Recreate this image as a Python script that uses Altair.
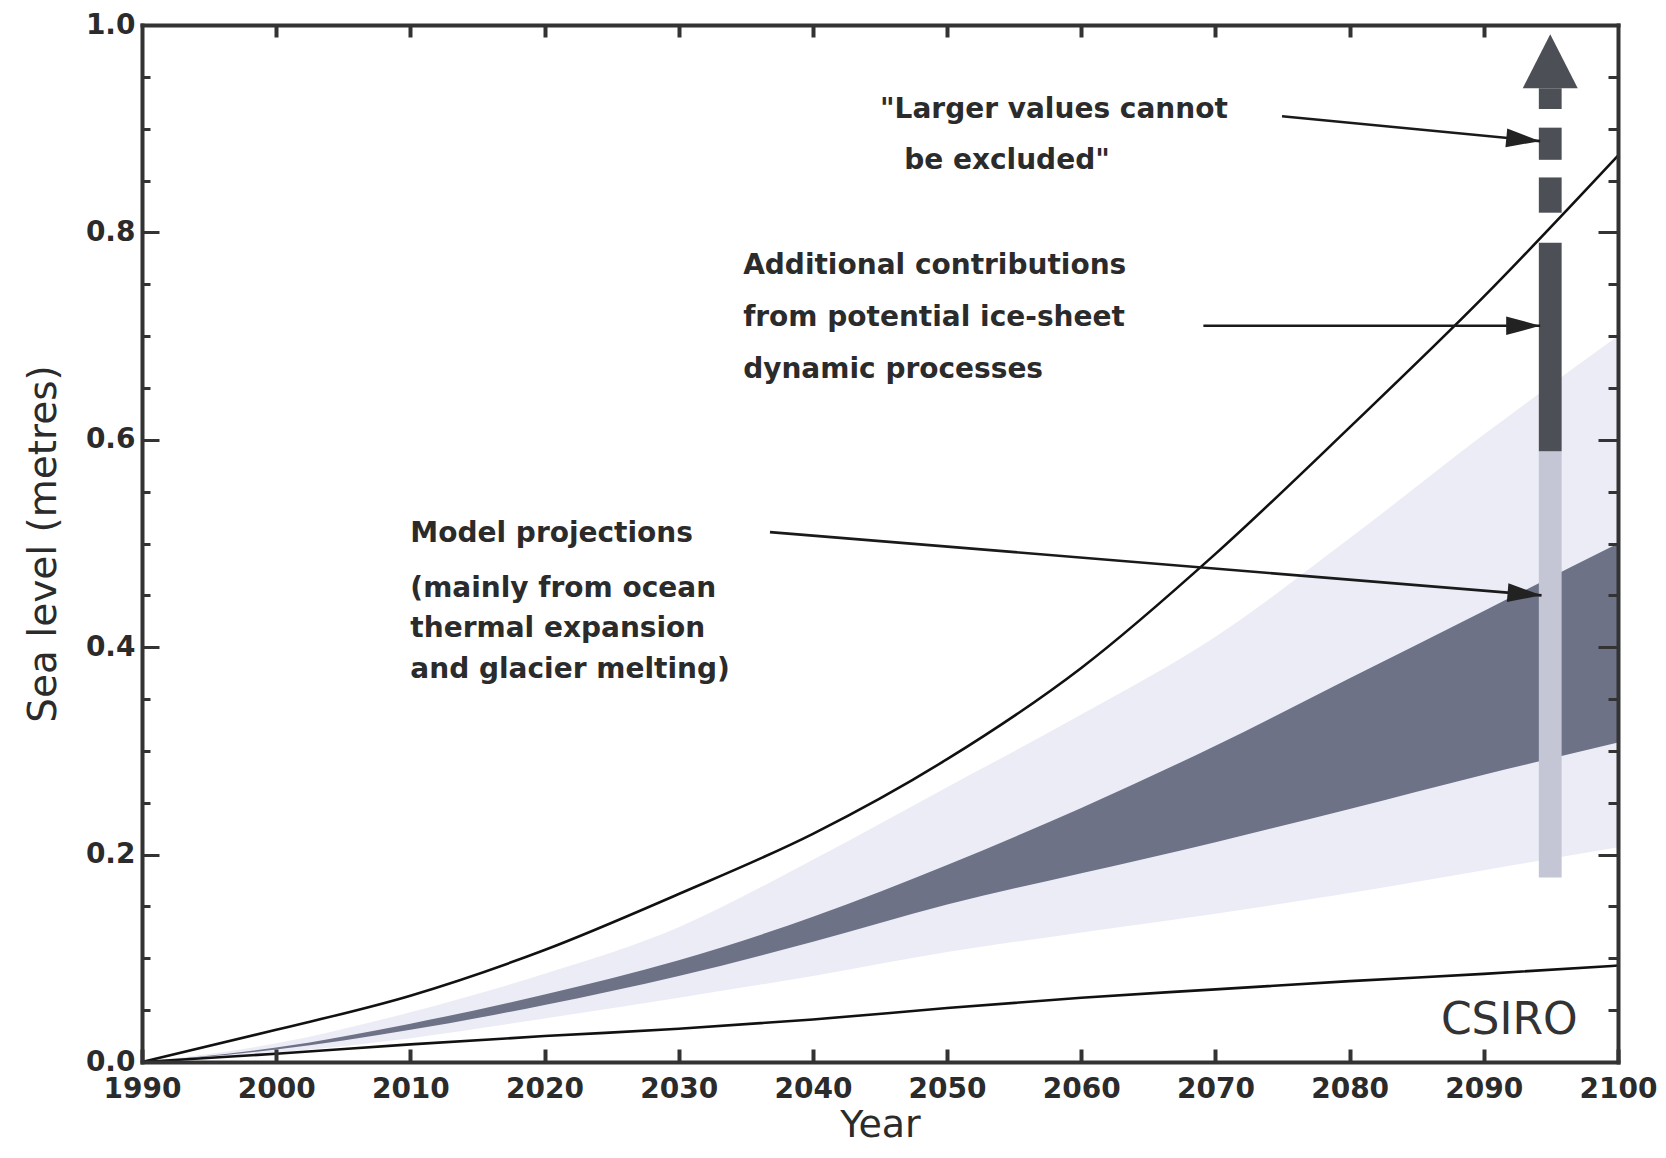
import altair as alt
import pandas as pd

# ---------------- data ----------------
years = [1990, 2000, 2010, 2020, 2030, 2040, 2050, 2060, 2070, 2080, 2090, 2100]
upper_curve = [0.000, 0.031, 0.064, 0.108, 0.162, 0.220, 0.292, 0.380, 0.490, 0.612, 0.738, 0.874]
lower_curve = [0.000, 0.008, 0.017, 0.025, 0.032, 0.041, 0.052, 0.062, 0.070, 0.078, 0.085, 0.093]
light_top = [0.000, 0.018, 0.048, 0.085, 0.130, 0.195, 0.265, 0.335, 0.410, 0.505, 0.605, 0.700]
light_bottom = [0.000, 0.009, 0.023, 0.042, 0.062, 0.083, 0.106, 0.125, 0.143, 0.163, 0.185, 0.207]
dark_top = [0.000, 0.014, 0.037, 0.065, 0.098, 0.140, 0.190, 0.245, 0.305, 0.370, 0.435, 0.500]
dark_bottom = [0.000, 0.012, 0.031, 0.055, 0.083, 0.116, 0.152, 0.182, 0.212, 0.244, 0.277, 0.308]

# vertical bar at 2095
bar_start = [2094.1, 2094.1, 2094.1, 2094.1, 2094.1]
bar_end = [2095.8, 2095.8, 2095.8, 2095.8, 2095.8]
bar_bottom = [0.178, 0.589, 0.819, 0.870, 0.919]
bar_top = [0.589, 0.790, 0.853, 0.901, 0.939]
bar_kind = ["model", "ice", "larger", "larger", "larger"]

# arrow head on top of the bar
head_year = [2092.9, 2094.95, 2097.0]
head_tip = [0.939, 0.991, 0.939]
head_base = [0.939, 0.939, 0.939]

# annotation arrows (start and end points)
arrow_id = ["a1", "a1", "a2", "a2", "a3", "a3"]
arrow_year = [2074.96, 2094.2, 2069.1, 2094.2, 2036.8, 2094.3]
arrow_level = [0.912, 0.888, 0.710, 0.710, 0.511, 0.450]
tip_year = [2094.2, 2094.2, 2094.3]
tip_level = [0.888, 0.710, 0.450]
tip_angle = [5.5, 0.0, 4.7]

# annotation texts
annot_text = ['"Larger values cannot', 'be excluded"',
              'Additional contributions', 'from potential ice-sheet', 'dynamic processes',
              'Model projections', '(mainly from ocean', 'thermal expansion', 'and glacier melting)']
annot_year = [2045.0, 2046.8, 2034.8, 2034.8, 2034.8, 2010.0, 2010.0, 2010.0, 2010.0]
annot_level = [0.918, 0.869, 0.7675, 0.7176, 0.6676, 0.509, 0.456, 0.418, 0.378]

logo_text = ["CSIRO"]
logo_year = [2091.9]
logo_level = [0.040]

x_ticks = [1990, 2000, 2010, 2020, 2030, 2040, 2050, 2060, 2070, 2080, 2090, 2100]
x_ticks_inner = [2000, 2010, 2020, 2030, 2040, 2050, 2060, 2070, 2080, 2090]
y_major = [0.0, 0.2, 0.4, 0.6, 0.8, 1.0]
y_minor = [0.05, 0.10, 0.15, 0.25, 0.30, 0.35, 0.45, 0.50, 0.55, 0.65, 0.70, 0.75, 0.85, 0.90, 0.95]

# ---------------- tables ----------------
series = pd.DataFrame({
    "year": years, "upper": upper_curve, "lower": lower_curve,
    "light_top": light_top, "light_bottom": light_bottom,
    "dark_top": dark_top, "dark_bottom": dark_bottom,
})
bars = pd.DataFrame({"x0": bar_start, "x1": bar_end, "bottom": bar_bottom,
                     "top": bar_top, "kind": bar_kind})
head = pd.DataFrame({"year": head_year, "tip": head_tip, "base": head_base})
arrows = pd.DataFrame({"id": arrow_id, "year": arrow_year, "level": arrow_level})
tips = pd.DataFrame({"year": tip_year, "level": tip_level, "angle": tip_angle})
annots = pd.DataFrame({"text": annot_text, "year": annot_year, "level": annot_level})
logo = pd.DataFrame({"text": logo_text, "year": logo_year, "level": logo_level})

# ---------------- styles ----------------
INK = "#2b2b2b"
AX = "#333333"
FONT = "DejaVu Sans"
xscale = alt.Scale(domain=[1990, 2100], nice=False, zero=False)
yscale = alt.Scale(domain=[0, 1], nice=False, zero=False)

y_left_major = alt.Axis(
    orient="left", values=y_major, format=".1f", offset=-17, tickSize=17, tickWidth=3,
    tickColor=AX, domain=False, grid=False, labelFlush=False, labelOverlap=False,
    labelFont=FONT, labelFontWeight="bold", labelFontSize=28, labelColor=INK, labelPadding=7,
    title="Sea level (metres)", titleFont=FONT, titleFontSize=39, titleFontWeight="normal",
    titleColor=INK, titlePadding=22, zindex=1)
y_left_minor = alt.Axis(orient="left", values=y_minor, offset=-8, tickSize=8, tickWidth=3,
                        tickColor=AX, domain=False, labels=False, grid=False, title=None, zindex=1)
y_right_major = alt.Axis(orient="right", values=y_major, offset=-20, tickSize=20, tickWidth=3,
                         tickColor=AX, domain=False, labels=False, grid=False, title=None, zindex=1)
y_right_minor = alt.Axis(orient="right", values=y_minor, offset=-10, tickSize=10, tickWidth=3,
                         tickColor=AX, domain=False, labels=False, grid=False, title=None, zindex=1)
x_bottom = alt.Axis(
    orient="bottom", values=x_ticks, format="d", offset=-13, tickSize=13, tickWidth=4,
    tickColor=AX, domain=False, grid=False, labelFlush=False, labelOverlap=False,
    labelFont=FONT, labelFontWeight="bold", labelFontSize=28, labelColor=INK, labelPadding=13,
    title="Year", titleFont=FONT, titleFontSize=38, titleFontWeight="normal",
    titleColor=INK, titlePadding=3, zindex=1)
x_top = alt.Axis(orient="top", values=x_ticks_inner, offset=-12, tickSize=12, tickWidth=4,
                 tickColor=AX, domain=False, labels=False, grid=False, title=None, zindex=1)


def frame(orient):
    return alt.Axis(orient=orient, domain=True, domainWidth=4, domainColor=AX, domainCap="square",
                    ticks=False, labels=False, grid=False, title=None, zindex=2)


base = alt.Chart(series)

light = base.mark_area(color="#ebecf5", interpolate="monotone").encode(
    x=alt.X("year:Q", scale=xscale, axis=x_bottom),
    y=alt.Y("light_top:Q", scale=yscale, axis=y_left_major),
    y2="light_bottom:Q",
)
dark = base.mark_area(color="#6d7287", interpolate="monotone").encode(
    x=alt.X("year:Q", scale=xscale, axis=x_top),
    y=alt.Y("dark_top:Q", scale=yscale, axis=y_left_minor),
    y2="dark_bottom:Q",
)
lower = base.mark_line(color="#111111", strokeWidth=2.6, interpolate="monotone").encode(
    x=alt.X("year:Q", scale=xscale, axis=frame("bottom")),
    y=alt.Y("lower:Q", scale=yscale, axis=y_right_major),
)
upper = base.mark_line(color="#111111", strokeWidth=2.6, interpolate="monotone").encode(
    x=alt.X("year:Q", scale=xscale, axis=frame("top")),
    y=alt.Y("upper:Q", scale=yscale, axis=y_right_minor),
)
bar = alt.Chart(bars).mark_rect().encode(
    x=alt.X("x0:Q", scale=xscale, axis=None),
    x2="x1:Q",
    y=alt.Y("bottom:Q", scale=yscale, axis=frame("left")),
    y2="top:Q",
    color=alt.Color("kind:N", scale=alt.Scale(domain=["model", "ice", "larger"],
                                              range=["#c4c6d6", "#4d4f56", "#4d4f56"]),
                    legend=None),
)
arrow_head = alt.Chart(head).mark_area(color="#4d4f56").encode(
    x=alt.X("year:Q", scale=xscale, axis=None),
    y=alt.Y("tip:Q", scale=yscale, axis=frame("right")),
    y2="base:Q",
)
arrow_lines = alt.Chart(arrows).mark_line(color="#1a1a1a", strokeWidth=2.6).encode(
    x=alt.X("year:Q", scale=xscale, axis=None),
    y=alt.Y("level:Q", scale=yscale, axis=None),
    detail="id:N",
)
arrow_tips = alt.Chart(tips).mark_point(
    shape="M0,0 L-2,-0.55 L-2,0.55 Z", filled=True, color="#222222", opacity=1, size=1156,
).encode(
    x=alt.X("year:Q", scale=xscale, axis=None),
    y=alt.Y("level:Q", scale=yscale, axis=None),
    angle=alt.Angle("angle:Q", scale=None),
)
texts = alt.Chart(annots).mark_text(
    align="left", baseline="middle", font=FONT, fontWeight="bold", fontSize=28, color=INK,
).encode(
    x=alt.X("year:Q", scale=xscale, axis=None),
    y=alt.Y("level:Q", scale=yscale, axis=None),
    text="text:N",
)
logo_mark = alt.Chart(logo).mark_text(
    align="center", baseline="middle", font=FONT, fontWeight="normal", fontSize=44, color="#333333",
).encode(
    x=alt.X("year:Q", scale=xscale, axis=None),
    y=alt.Y("level:Q", scale=yscale, axis=None),
    text="text:N",
)

chart = alt.layer(
    light, dark, lower, upper, bar, arrow_head, arrow_lines, arrow_tips, texts, logo_mark
).resolve_axis(
    x="independent", y="independent"
).properties(
    width=1476, height=1037,
    autosize=alt.AutoSizeParams(type="none"),
    padding={"left": 134, "top": 17, "right": 40, "bottom": 86},
    background="white",
).configure_view(strokeWidth=0)

chart.save("out.html", embed_options={"renderer": "svg", "actions": False})
